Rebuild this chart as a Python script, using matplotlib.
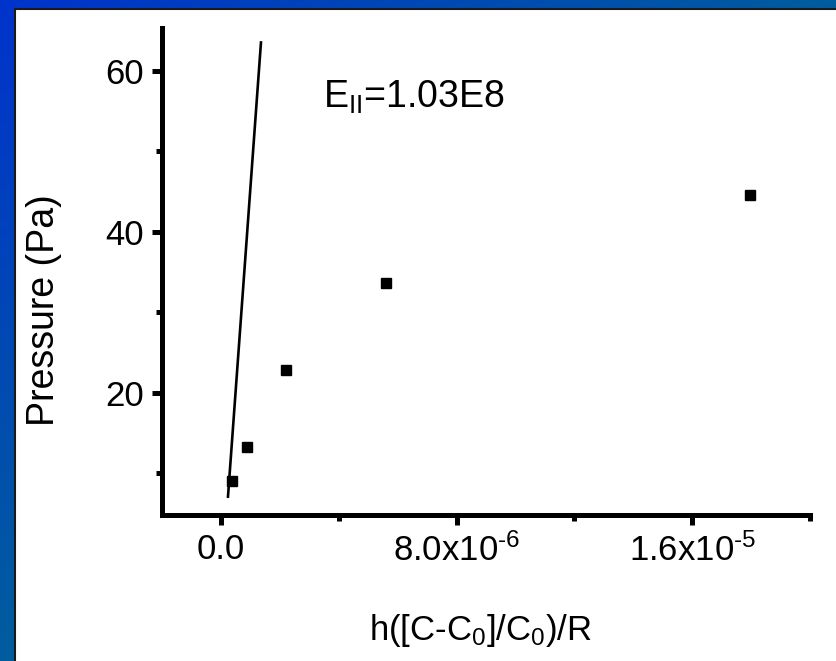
import numpy as np
import matplotlib
matplotlib.use("Agg")
import matplotlib.pyplot as plt
from matplotlib.patches import Rectangle
from matplotlib.ticker import FixedLocator, FixedFormatter

plt.rcParams['font.family'] = ['Liberation Sans', 'DejaVu Sans']
plt.rcParams['mathtext.fontset'] = 'custom'
plt.rcParams['mathtext.rm'] = 'Liberation Sans'
plt.rcParams['mathtext.sf'] = 'Liberation Sans'
plt.rcParams['mathtext.it'] = 'Liberation Sans'

# ---- data ----
x_data = [3.7e-7, 8.8e-7, 2.21e-6, 5.62e-6, 1.795e-5]
y_data = [9.07, 13.3, 22.86, 33.66, 44.56]
fit_x = [2.4e-7, 1.36e-6]
fit_y = [7.08, 63.5]
x_ticks = [0.0, 8.0e-6, 1.6e-5]
x_tick_labels = ['0.0', r'8.0x10$^{\text{-6}}$', r'1.6x10$^{\text{-5}}$']
y_ticks = [20, 40, 60]
y_tick_labels = ['20', '40', '60']
annotation = r'E$_{\mathsf{II}}$=1.03E8'
x_label = r'h([C-C$_{\mathsf{0}}$]/C$_{\mathsf{0}}$)/R'
y_label = 'Pressure (Pa)'

W, H = 836, 661
fig = plt.figure(figsize=(W / 100, H / 100), dpi=100)

# background gradient
bg = fig.add_axes([0, 0, 1, 1])
bg.axis('off')
xx = np.linspace(0, 1, W)[None, :]
yy = np.linspace(0, 1, H)[:, None]
t = np.clip(0.85 * xx + 0.85 * yy, 0, 1)
c0 = np.array([0, 51, 204]) / 255.0
c1 = np.array([0, 100, 150]) / 255.0
img = c0[None, None, :] * (1 - t[..., None]) + c1[None, None, :] * t[..., None]
bg.imshow(img, aspect='auto', extent=[0, 1, 0, 1], origin='upper')
bg.set_xlim(0, 1)
bg.set_ylim(0, 1)
bg.add_patch(Rectangle((15 / W, -0.01), 1.0, 1 - 8.5 / H + 0.01,
                       facecolor='white', edgecolor='#1a1a1a', linewidth=1.5,
                       transform=bg.transAxes))

ax = fig.add_axes([162 / W, 1 - 515 / H, (810 - 162) / W, (515 - 28) / H])
ax.set_facecolor('none')
ax.plot(fit_x, fit_y, color='black', lw=1.9)
ax.plot(x_data, y_data, linestyle='none', marker='s', markersize=7,
        color='black')

ax.set_xlim(-2.0e-6, 2.0e-5)
ax.set_ylim(4.8, 65.3)

ax.xaxis.set_major_locator(FixedLocator(x_ticks))
ax.xaxis.set_major_formatter(FixedFormatter(x_tick_labels))
ax.xaxis.set_minor_locator(FixedLocator([4e-6, 1.2e-5, 2.0e-5]))
ax.yaxis.set_major_locator(FixedLocator(y_ticks))
ax.yaxis.set_major_formatter(FixedFormatter(y_tick_labels))
ax.yaxis.set_minor_locator(FixedLocator([10, 30, 50]))

for side in ['top', 'right']:
    ax.spines[side].set_visible(False)
for side in ['left', 'bottom']:
    ax.spines[side].set_linewidth(3.6)
    ax.spines[side].set_capstyle('projecting')

ax.tick_params(which='major', direction='out', length=7, width=3.6,
               labelsize=25, pad=6, colors='black')
ax.tick_params(which='minor', direction='out', length=4, width=3.6)

ax.set_xlabel(x_label, fontsize=25)
ax.set_ylabel(y_label, fontsize=27)
ax.xaxis.set_label_coords(0.492, -0.199)
ax.yaxis.set_label_coords(-0.155, 0.42)

ax.text(323, H - 97, annotation, fontsize=27, transform=None,
        va='center', ha='left')

fig.savefig('out.png', dpi=100)
